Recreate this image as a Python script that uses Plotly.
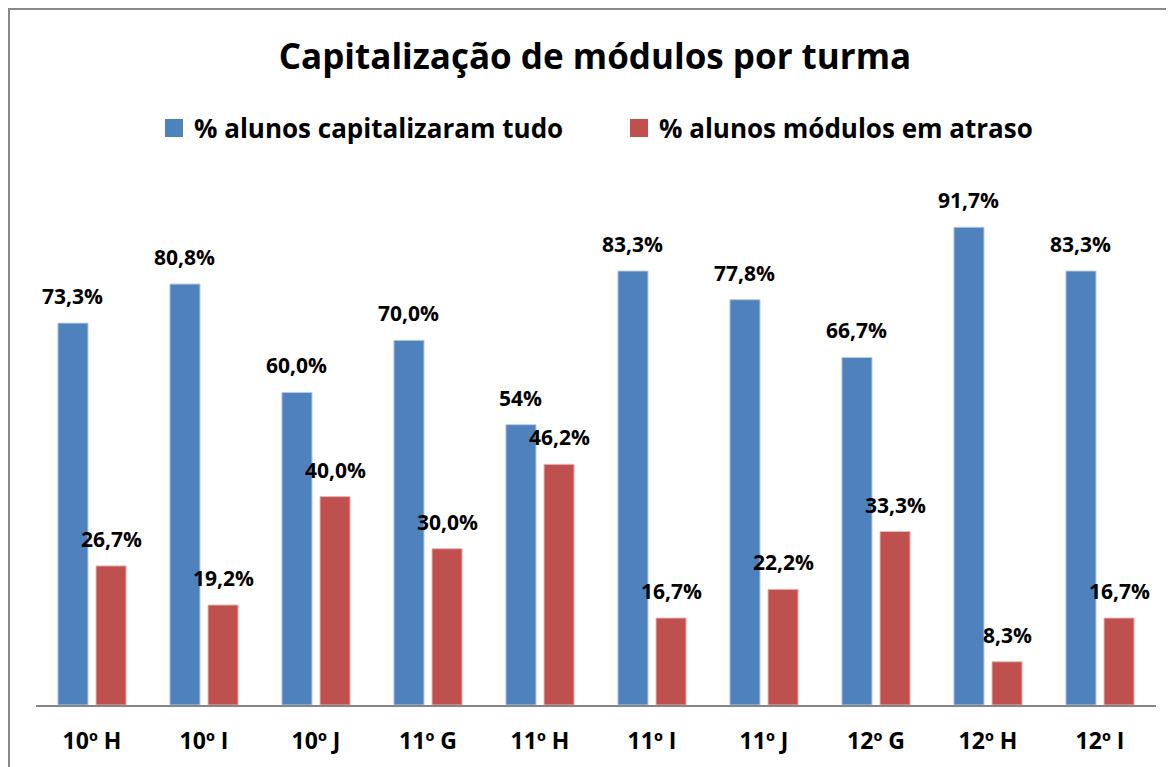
import plotly.graph_objects as go

categories = ["10º H", "10º I", "10º J", "11º G", "11º H", "11º I", "11º J", "12º G", "12º H", "12º I"]
capitalizaram = [73.3, 80.8, 60.0, 70.0, 53.8, 83.3, 77.8, 66.7, 91.7, 83.3]
atraso = [26.7, 19.2, 40.0, 30.0, 46.2, 16.7, 22.2, 33.3, 8.3, 16.7]
cap_labels = ["73,3%", "80,8%", "60,0%", "70,0%", "54%", "83,3%", "77,8%", "66,7%", "91,7%", "83,3%"]
atr_labels = ["26,7%", "19,2%", "40,0%", "30,0%", "46,2%", "16,7%", "22,2%", "33,3%", "8,3%", "16,7%"]
series_names = ["% alunos capitalizaram tudo", "% alunos módulos em atraso"]

FONT = "Open Sans"
BLUE = "#4F81BD"
RED = "#C0504D"

# figure coordinates (the page adds an 8px body margin)
L, R, T, B = 28, 26, 176, 70
PW = 1174 - L - R
PH = 767 - T - B

fig = go.Figure()
fig.add_trace(go.Bar(x=categories, y=capitalizaram, name=series_names[0], showlegend=False,
                     marker=dict(color=BLUE, line=dict(color="#B8CCE4", width=1))))
fig.add_trace(go.Bar(x=categories, y=atraso, name=series_names[1], showlegend=False,
                     marker=dict(color=RED, line=dict(color="#E6B9B8", width=1))))
# legend entries with larger square symbols
for nm, col in zip(series_names, [BLUE, RED]):
    fig.add_trace(go.Scatter(x=[None], y=[None], mode="markers", name=nm,
                             marker=dict(symbol="square", size=16, color=col,
                                         line=dict(color=col, width=2))))

off = 0.17
for i, (v, t) in enumerate(zip(capitalizaram, cap_labels)):
    fig.add_annotation(x=i - off, y=v, text=t, showarrow=False, yanchor="bottom", yshift=11,
                       font=dict(family=FONT, size=21, color="black", weight="bold"))
for i, (v, t) in enumerate(zip(atraso, atr_labels)):
    fig.add_annotation(x=i + off, y=v, text=t, showarrow=False, yanchor="bottom", yshift=11,
                       font=dict(family=FONT, size=21, color="black", weight="bold"))

fig.add_shape(type="rect", xref="paper", yref="paper",
              x0=(1 - L) / PW, x1=1.05, y0=-0.2, y1=(PH + T - 1) / PH,
              line=dict(color="#898989", width=2), fillcolor="rgba(0,0,0,0)")

fig.update_layout(
    width=1174, height=767,
    margin=dict(l=L, r=R, t=T, b=B),
    paper_bgcolor="white", plot_bgcolor="white",
    barmode="group", bargap=0.32, bargroupgap=0.21,
    title=dict(text="<b>Capitalização de módulos por turma</b>", x=(595 - 8) / 1174, xanchor="center",
               y=1 - 49 / 767, yanchor="middle",
               font=dict(family=FONT, size=35, color="black")),
    legend=dict(orientation="h", x=(146 - L) / PW, xanchor="left",
                y=(PH + T - 120) / PH, yanchor="middle",
                font=dict(family=FONT, size=26, color="black", weight="bold"),
                itemwidth=30, entrywidth=420, traceorder="normal"),
    xaxis=dict(type="category", showline=True, linecolor="#868686", linewidth=2,
               ticks="", showgrid=False, ticklabelstandoff=14,
               tickfont=dict(family=FONT, size=23, color="black", weight="bold")),
    yaxis=dict(range=[0, 100], visible=False, showgrid=False),
    showlegend=True,
)

fig.write_html("out.html")
